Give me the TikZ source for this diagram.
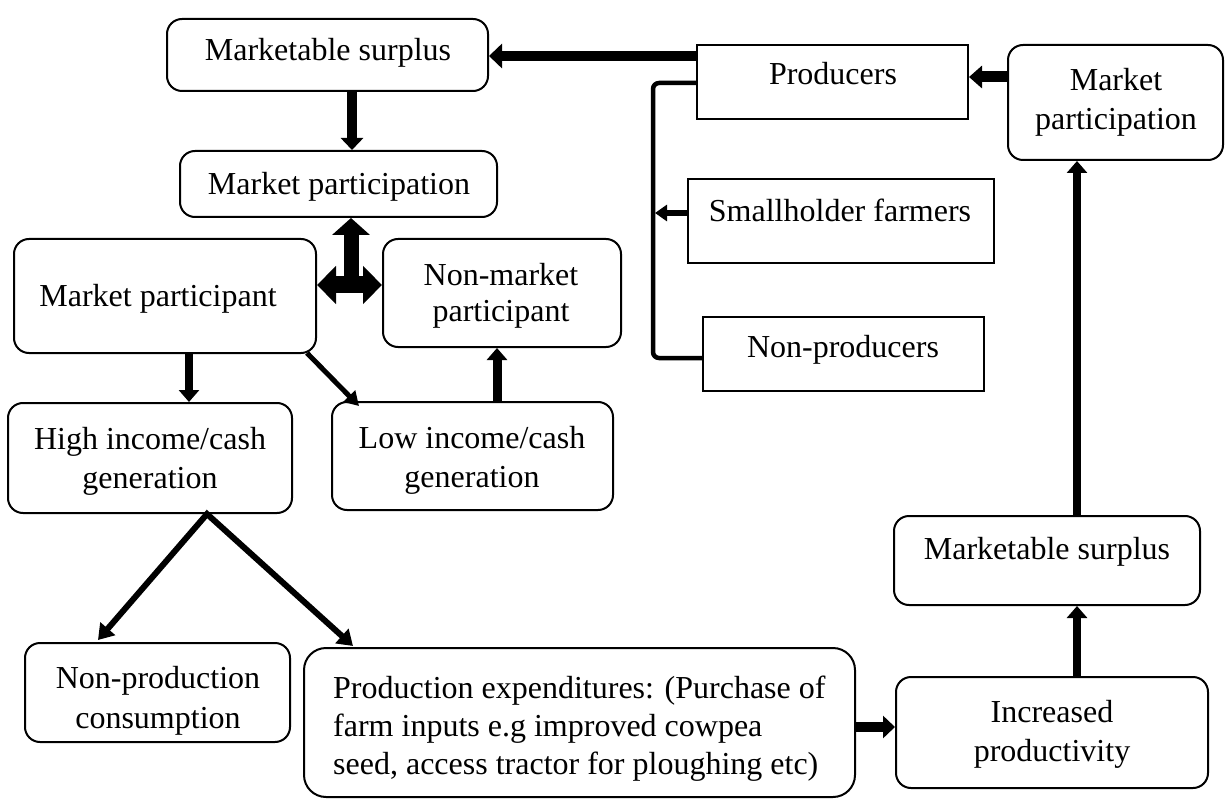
\documentclass[tikz,border=0pt]{standalone}
\usepackage{fontspec}
\setmainfont{Liberation Serif}
\usetikzlibrary{fit,arrows.meta}
\begin{document}
\begin{tikzpicture}[x=1pt,y=-1pt,
  rbox/.style={draw, line width=2pt, rounded corners=15pt, inner sep=0pt},
  sbox/.style={draw, line width=2pt, inner sep=0pt},
  txt/.style={font=\fontsize{32}{40}\selectfont, inner sep=0pt, anchor=base},
  ltxt/.style={font=\fontsize{32}{40}\selectfont, inner sep=0pt, anchor=base west},
  arr/.style n args={3}{line width=#1, -{Triangle[width=#2,length=#3]}}
]
\useasboundingbox (0,0) rectangle (1225,799);
% boxes
\node[rbox, fit={(167,19)(488,91)}] (ms1) {};
\node[rbox, fit={(180,151)(497,217)}] (mp1) {};
\node[rbox, fit={(14,239)(316,353)}] (mpant) {};
\node[rbox, fit={(383,239)(621,347)}] (nonmp) {};
\node[rbox, fit={(8,403)(292,513)}] (hi) {};
\node[rbox, fit={(332,402)(613,510)}] (li) {};
\node[rbox, fit={(25,643)(290,742)}] (npc) {};
\node[rbox, rounded corners=22pt, fit={(304,648)(855,797)}] (pe) {};
\node[rbox, fit={(896,677)(1208,788)}] (ip) {};
\node[rbox, fit={(894,516)(1200,605)}] (msr) {};
\node[rbox, fit={(1008,45)(1223,160)}] (mpr) {};
\node[sbox, fit={(697,45)(968,119)}] (prod) {};
\node[sbox, fit={(688,179)(994,263)}] (small) {};
\node[sbox, fit={(703,317)(984,391)}] (nonprod) {};
% texts
\node[txt] (t1) at (328,61) {Marketable surplus};
\node[txt] (t2) at (339,195) {Market participation};
\node[txt] (t3) at (158,306) {Market participant};
\node[txt] (t4) at (501,286) {Non-market};
\node[txt] (t5) at (501,322) {participant};
\node[txt] (t6) at (150,449) {High income/cash};
\node[txt] (t7) at (150,488) {generation};
\node[txt] (t8) at (472,448) {Low income/cash};
\node[txt] (t9) at (472,487) {generation};
\node[txt] (t10) at (158,688) {Non-production};
\node[txt] (t11) at (158,728) {consumption};
\node[ltxt] (t12) at (333,698) {Production expenditures: (Purchase of};
\node[ltxt] (t13) at (333,736) {farm inputs e.g improved cowpea};
\node[ltxt] (t14) at (333,774) {seed, access tractor for ploughing etc)};
\node[txt] (t15) at (1052,722) {Increased};
\node[txt] (t16) at (1052,761) {productivity};
\node[txt] (t17) at (1047,559) {Marketable surplus};
\node[txt] (t18) at (1116,91) {Market};
\node[txt] (t19) at (1116,130) {participation};
\node[txt] (t20) at (833,85) {Producers};
\node[txt] (t21) at (840,222) {Smallholder farmers};
\node[txt] (t22) at (843,357) {Non-producers};
% connectors
\draw[arr={10pt}{24pt}{13pt}] (prod.west |- 0,56) -- (ms1.east |- 0,56);
\draw[arr={10pt}{22pt}{12pt}] (ms1.south -| 352,0) -- (mp1.north -| 352,0);
\coordinate (j) at (351,285);
\draw[line width=15pt, -{Triangle[width=37pt,length=17pt]}] (j) -- (j |- mp1.south);
\draw[line width=17pt, {Triangle[width=37pt,length=19pt]}-{Triangle[width=37pt,length=19pt]}] (mpant.east |- j) -- (nonmp.west |- j);
\draw[arr={8pt}{20pt}{12pt}] (mpant.south -| 189,0) -- (hi.north -| 189,0);
\draw[arr={5pt}{16pt}{14pt}] ([shift={(-10,-1)}]mpant.south east) -- ([shift={(28,5)}]li.north west);
\draw[arr={9pt}{20pt}{12pt}] (li.north -| 497,0) -- (nonmp.south -| 497,0);
\draw[line width=6pt, {Triangle[width=19pt,length=15pt]}-{Triangle[width=19pt,length=15pt]}] ([yshift=2pt]npc.north -| 98,0) -- (hi.south -| 207,0) -- ([yshift=1pt]pe.north -| 353,0);
\draw[arr={10pt}{22pt}{12pt}] (pe.east |- 0,727) -- (ip.west |- 0,727);
\draw[arr={8pt}{20pt}{12pt}] (ip.north -| 1077,0) -- (msr.south -| 1077,0);
\draw[arr={8pt}{20pt}{12pt}] (msr.north -| 1077,0) -- (mpr.south -| 1077,0);
\draw[arr={11pt}{22pt}{13pt}] (mpr.west |- 0,77) -- (prod.east |- 0,77);
\coordinate (bt) at (653,83);
\coordinate (bb) at (653,358);
\coordinate (bm) at (655,213);
\draw[line width=4.5pt, rounded corners=6pt] (prod.west |- bt) -- (bt) -- (bb) -- (nonprod.west |- bb);
\draw[arr={6pt}{16pt}{12pt}] (small.west |- bm) -- (bm);
\end{tikzpicture}
\end{document}
